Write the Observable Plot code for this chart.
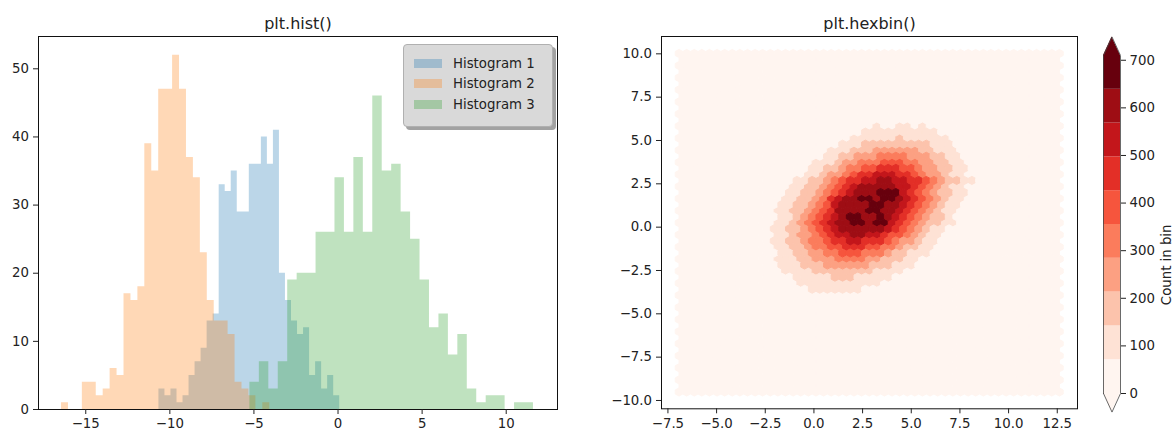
<!DOCTYPE html>
<html><head><meta charset="utf-8">
<script src="https://cdn.jsdelivr.net/npm/d3@7"></script>
<script src="https://cdn.jsdelivr.net/npm/@observablehq/plot@0.6"></script>
<style>
html,body{margin:0;padding:0;background:#fff;overflow:hidden;}
#chart{position:relative;width:1174px;height:430px;font-family:"DejaVu Sans",sans-serif;}
#chart svg{position:absolute;left:0;top:0;overflow:visible;}
.legend{position:absolute;left:403px;top:44px;width:150px;height:83px;box-sizing:border-box;background:#d9d9d9;border:1px solid #b0b0b0;border-radius:4px;box-shadow:3px 3px 0 #a2a2a2;font:13.3px "DejaVu Sans";color:#222;}
.legend .item{position:absolute;left:10px;height:16px;display:flex;align-items:center;}
.legend .sw{width:28px;height:9px;margin-right:11px;}
</style></head>
<body><div id="chart"></div>
<script>
// ---------------- data ----------------
const histLabels = ["Histogram 1", "Histogram 2", "Histogram 3"];
const histColors = ["#1f77b4", "#ff7f0e", "#2ca02c"];
const hist1Range = [-10.65, 0.10];
const hist1Counts = [3,2,3,1,2,5,7,9,13,14,33,32,35,29,29,36,36,40,36,41,20,16,13,11,12,5,7,3,5,2];
const hist2Range = [-16.44, -4.06];
const hist2Counts = [1,0,0,4,4,2,3,6,5,17,16,18,39,35,47,47,52,47,37,34,23,16,13,13,11,4,3,2,0,1];
const hist3Range = [-5.24, 11.62];
const hist3Counts = [4,7,3,7,19,20,20,26,26,34,26,37,26,46,35,36,29,25,19,12,14,8,11,3,1,2,2,0,1,1];
const histXTicks = [-15, -10, -5, 0, 5, 10];
const histYTicks = [0, 10, 20, 30, 40, 50];

// hexbin grid (gridsize 50), colour level of each cell (0..9); cells outside the listed block are level 0
const hexXRange = [-6.93, 12.61];
const hexYRange = [-9.51, 10.02];
const hexNx = 50, hexNy = 28;
const hexRowStart = 12, hexColStart = 11;
const hexRows = [
  "00000000000000010011010000000",
  "00000000000001111111111000000",
  "00000000000011111121111110000",
  "00000000001112222222221110000",
  "00000000011122233333322111000",
  "00000000112233344443332211000",
  "00000001112334445554433221100",
  "00000011223445566655433221100",
  "00000011233456677766543321100",
  "00001122345667788776654322110",
  "00001122345678888877654321100",
  "00011223456788899976543221100",
  "00011223467889989987654321100",
  "00112234578888998876543211000",
  "00112234568888998876543211000",
  "00112345678998898765432210000",
  "00112345678899899765432211000",
  "01122345678888887654321100000",
  "00112334567788776554321100000",
  "01122344566776665433211000000",
  "00112234455666554432211000000",
  "00112233445554443221110000000",
  "00111223334444332221100000000",
  "00111222333333222111000000000",
  "00011112222222211110000000000",
  "00001111122211111000000000000",
  "00000111111111110000000000000",
  "00000011111110000000000000000"
];
const hexXTicks = [-7.5, -5, -2.5, 0, 2.5, 5, 7.5, 10, 12.5];
const hexYTicks = [-10, -7.5, -5, -2.5, 0, 2.5, 5, 7.5, 10];
const levelColors = ["#fff5f0","#fee2d5","#fcc3ac","#fca082","#fb7c5c","#f6553d","#e32f27","#c3161b","#9e0d14","#67000d"];
const cbStep = 71;            // counts per colour band
const cbTicks = [0, 100, 200, 300, 400, 500, 600, 700];
const cbLabel = "Count in bin";
const titles = ["plt.hist()", "plt.hexbin()"];

// ---------------- layout ----------------
const W = 1174, H = 430;
const FONT = "DejaVu Sans";
const ink = "#222";
const baseStyle = {fontFamily: FONT, fontSize: "13.3px", color: ink, background: "transparent", overflow: "visible"};
const minusFmt = d => (d < 0 ? "\u2212" : "") + Math.abs(d);
const chart = document.getElementById("chart");

// ---------------- histogram ----------------
function stepRows(range, counts, label) {
  const n = counts.length, step = (range[1] - range[0]) / n;
  return d3.range(n + 1).map(k => ({x: range[0] + k * step, y: counts[Math.min(k, n - 1)], label}));
}
const histData = [
  ...stepRows(hist1Range, hist1Counts, histLabels[0]),
  ...stepRows(hist2Range, hist2Counts, histLabels[1]),
  ...stepRows(hist3Range, hist3Counts, histLabels[2])
];
const hist = Plot.plot({
  width: W, height: H,
  marginLeft: 38, marginRight: W - 557, marginTop: 36, marginBottom: H - 409,
  style: baseStyle,
  x: {domain: [-17.81, 13.05]},
  y: {domain: [0, 54.74]},
  color: {domain: histLabels, range: histColors},
  marks: [
    Plot.areaY(histData, {x: "x", y: "y", z: "label", fill: "label", fillOpacity: 0.3, curve: "step-after"}),
    Plot.frame({stroke: "#111", strokeWidth: 1}),
    Plot.axisX({ticks: histXTicks, tickFormat: minusFmt, tickSize: 5, tickPadding: 4.5, label: null}),
    Plot.axisY({ticks: histYTicks, tickFormat: minusFmt, tickSize: 5, tickPadding: 4.5, label: null}),
    Plot.text([titles[0]], {frameAnchor: "top", dy: -18.5, fontSize: 16})
  ]
});
chart.appendChild(hist);

// legend
const legend = document.createElement("div");
legend.className = "legend";
histLabels.forEach((lab, k) => {
  const it = document.createElement("div");
  it.className = "item";
  it.style.top = (10.5 + k * 20.3) + "px";
  const sw = document.createElement("span");
  sw.className = "sw";
  sw.style.background = histColors[k];
  sw.style.opacity = 0.3;
  const tx = document.createElement("span");
  tx.textContent = lab;
  it.appendChild(sw); it.appendChild(tx);
  legend.appendChild(it);
});
chart.appendChild(legend);

// ---------------- hexbin ----------------
const hexML = 661, hexMR = W - 1077, hexMT = 36, hexMB = H - 408.3;
const hexXDom = [-7.83, 13.54], hexYDom = [-10.48, 11.0];
const sx = (hexXRange[1] - hexXRange[0]) / hexNx;
const sy = (hexYRange[1] - hexYRange[0]) / hexNy;
const pxX = (W - hexML - hexMR) / (hexXDom[1] - hexXDom[0]);
const pxY = (H - hexMT - hexMB) / (hexYDom[1] - hexYDom[0]);
const hw = sx * pxX / 2, ht = sy * pxY / 3;
const hexSymbol = {draw(ctx) {
  ctx.moveTo(hw, -ht / 2); ctx.lineTo(hw, ht / 2); ctx.lineTo(0, ht);
  ctx.lineTo(-hw, ht / 2); ctx.lineTo(-hw, -ht / 2); ctx.lineTo(0, -ht); ctx.closePath();
}};
const hexCells = [];
for (const odd of [false, true]) {
  for (let r = odd ? 1 : 0; r <= 2 * hexNy; r += 2) {
    const n = odd ? hexNx : hexNx + 1;
    const row = hexRows[r - hexRowStart];
    for (let i = 0; i < n; i++) {
      const ch = row ? row[i - hexColStart] : undefined;
      hexCells.push({
        x: hexXRange[0] + (i + (odd ? 0.5 : 0)) * sx,
        y: hexYRange[1] - r * sy / 2,
        level: ch ? +ch : 0
      });
    }
  }
}
const hex = Plot.plot({
  width: W, height: H,
  marginLeft: hexML, marginRight: hexMR, marginTop: hexMT, marginBottom: hexMB,
  style: baseStyle,
  x: {domain: hexXDom},
  y: {domain: hexYDom},
  color: {type: "ordinal", domain: d3.range(levelColors.length), range: levelColors},
  marks: [
    Plot.dot(hexCells, {x: "x", y: "y", fill: "level", stroke: "level", strokeWidth: 1, r: 4, symbol: hexSymbol}),
    Plot.frame({stroke: "#111", strokeWidth: 1}),
    Plot.axisX({ticks: hexXTicks, tickFormat: d3.format(".1f"), tickSize: 5, tickPadding: 4.5, label: null}),
    Plot.axisY({ticks: hexYTicks, tickFormat: d3.format(".1f"), tickSize: 5, tickPadding: 4.5, label: null}),
    Plot.text([titles[1]], {frameAnchor: "top", dy: -18.5, fontSize: 16})
  ]
});
chart.appendChild(hex);

// ---------------- colorbar ----------------
const nLev = levelColors.length;
const cbMax = cbStep * nLev;
const ext = cbMax * 0.055;
const cbBands = levelColors.map((c, k) => ({lo: k * cbStep, hi: (k + 1) * cbStep, level: k}));
const triTop = [{x: 0, y: cbMax}, {x: 0.5, y: cbMax + ext}, {x: 1, y: cbMax}];
const triBot = [{x: 0, y: 0}, {x: 0.5, y: -ext}, {x: 1, y: 0}];
const outline = [{x: 0, y: 0}, {x: 0, y: cbMax}, {x: 0.5, y: cbMax + ext}, {x: 1, y: cbMax}, {x: 1, y: 0}, {x: 0.5, y: -ext}, {x: 0, y: 0}];
const cb = Plot.plot({
  width: W, height: H,
  marginLeft: 1103, marginRight: W - 1120, marginTop: 55, marginBottom: H - 393,
  style: baseStyle,
  x: {domain: [0, 1], axis: null},
  y: {domain: [0, cbMax], axis: null},
  color: {type: "ordinal", domain: d3.range(nLev), range: levelColors},
  marks: [
    Plot.rect(cbBands, {x1: () => 0, x2: () => 1, y1: "lo", y2: "hi", fill: "level"}),
    Plot.areaY(triTop, {x: "x", y1: () => cbMax, y2: "y", fill: levelColors[nLev - 1]}),
    Plot.areaY(triBot, {x: "x", y1: () => 0, y2: "y", fill: levelColors[0]}),
    Plot.line(outline, {x: "x", y: "y", stroke: "#444", strokeWidth: 0.8}),
    Plot.axisY({anchor: "right", ticks: cbTicks, tickSize: 5, tickPadding: 4, label: null}),
    Plot.text([cbLabel], {frameAnchor: "right", dx: 46, rotate: -90, fontSize: 13.3})
  ]
});
chart.appendChild(cb);
</script>
</body></html>
